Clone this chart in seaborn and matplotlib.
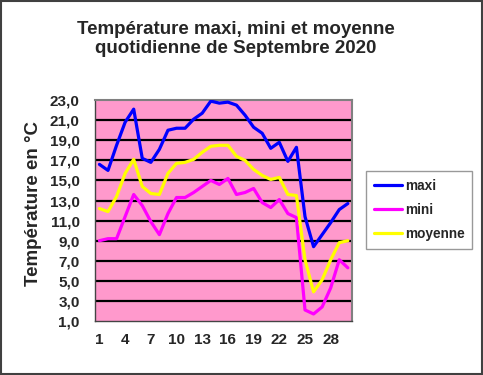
import matplotlib
matplotlib.use("Agg")
import matplotlib.pyplot as plt
import seaborn as sns
import pandas as pd
import numpy as np
from matplotlib.ticker import FuncFormatter, FixedLocator

# ================================
# DATA
# ================================
days = list(range(1, 31))
maxi = [16.6, 16.0, 18.5, 20.8, 22.1, 17.2, 16.8, 18.1, 20.0, 20.2,
        20.2, 21.1, 21.7, 22.9, 22.7, 22.8, 22.5, 21.5, 20.3, 19.7,
        18.2, 18.8, 16.9, 18.3, 11.4, 8.4, 9.6, 10.8, 12.1, 12.7]
mini = [9.0, 9.2, 9.2, 11.4, 13.6, 12.5, 10.9, 9.6, 11.7, 13.3,
        13.3, 13.8, 14.4, 15.0, 14.6, 15.2, 13.6, 13.8, 14.2, 12.8,
        12.3, 13.1, 11.7, 11.3, 2.1, 1.7, 2.4, 4.3, 7.1, 6.3]
moyenne = [12.2, 11.9, 13.4, 15.7, 17.1, 14.4, 13.7, 13.6, 15.7, 16.7,
           16.8, 17.1, 17.8, 18.4, 18.5, 18.5, 17.4, 17.0, 16.1, 15.5,
           15.1, 15.3, 13.6, 13.5, 7.1, 3.9, 5.1, 7.1, 8.8, 9.0]
series_names = ["maxi", "mini", "moyenne"]
series_colors = ["#0000FF", "#FF00FF", "#FFFF00"]
y_ticks = [1, 3, 5, 7, 9, 11, 13, 15, 17, 19, 21, 23]
x_labels = [1, 4, 7, 10, 13, 16, 19, 22, 25, 28]

df = pd.DataFrame({"jour": days, "maxi": maxi, "mini": mini, "moyenne": moyenne})
long_df = df.melt(id_vars="jour", var_name="serie", value_name="temp")

# ================================
# PLOT
# ================================
sns.set_style("white")
plt.rcParams["font.family"] = ["Liberation Sans", "DejaVu Sans"]
plt.rcParams["font.weight"] = "bold"

fig = plt.figure(figsize=(4.83, 3.75), dpi=100)
ax = fig.add_axes([0.197, 0.144, 0.532, 0.589])
ax.set_facecolor("#FF99CC")

# horizontal grid lines
for yv in y_ticks[1:-1]:
    ax.axhline(yv, color="black", lw=1.6, zorder=1)

sns.lineplot(data=long_df, x="jour", y="temp", hue="serie",
             hue_order=series_names, palette=series_colors,
             linewidth=2.3, ax=ax, legend=False, zorder=3)

ax.set_xlim(0.5, 30.5)
ax.set_ylim(1, 23)
ax.yaxis.set_major_locator(FixedLocator(y_ticks))
ax.yaxis.set_major_formatter(FuncFormatter(lambda v, p: f"{v:.1f}".replace(".", ",")))
ax.set_xticks(x_labels)
ax.set_xticklabels([str(d) for d in x_labels])
ax.set_xticks(np.arange(0.5, 31, 1.0), minor=True)
ax.tick_params(axis="x", which="major", length=0, pad=9, labelsize=11)
ax.tick_params(axis="x", which="minor", length=4, width=0.8, color="#444444",
               direction="out")
ax.tick_params(axis="y", length=7, width=0.8, color="#444444", labelsize=11,
               pad=4)
for lbl in ax.get_xticklabels() + ax.get_yticklabels():
    lbl.set_fontweight("bold")

ax.set_xlabel("")
ax.set_ylabel("Température en °C", fontsize=13.5, fontweight="bold")
ax.yaxis.set_label_coords(-0.205, 0.53)

for side in ["left", "bottom"]:
    ax.spines[side].set_color("#444444")
    ax.spines[side].set_linewidth(1.0)
for side in ["top", "right"]:
    ax.spines[side].set_color("#808080")
    ax.spines[side].set_linewidth(1.5)

fig.text(0.489, 0.944, "Température maxi, mini et moyenne\nquotidienne de Septembre 2020",
         ha="center", va="top", fontsize=13.5, fontweight="bold", linespacing=1.15)

# legend
handles = [plt.Line2D([], [], color=c, lw=2.3) for c in series_colors]
leg = fig.legend(handles, series_names, loc="center",
                 bbox_to_anchor=(0.868, 0.44), frameon=True, fancybox=False,
                 edgecolor="#808080", handlelength=2.1,
                 handletextpad=0.2, labelspacing=0.75, borderpad=0.55,
                 prop={"weight": "bold", "size": 9.8})
leg.get_frame().set_linewidth(1.0)

# outer border
fig.patches.append(plt.Rectangle((0.002, 0.003), 0.996, 0.994, transform=fig.transFigure,
                                 fill=False, edgecolor="#404040", lw=1.5))

fig.savefig("out.png", dpi=100)
plt.close(fig)
